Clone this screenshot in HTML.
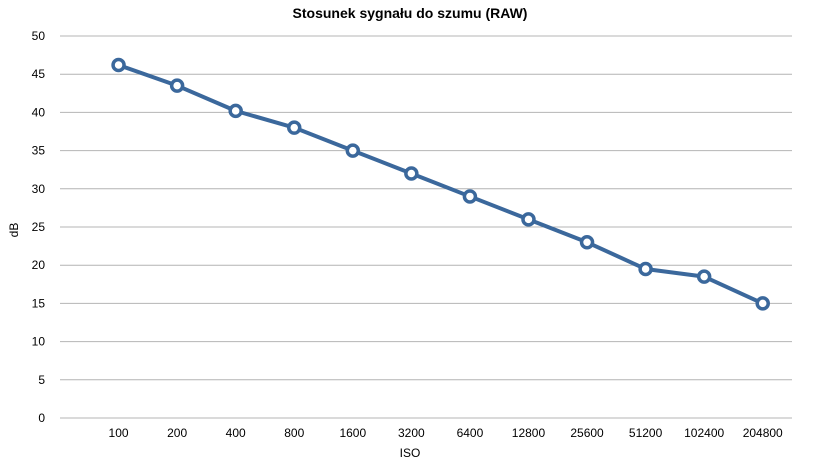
<!DOCTYPE html>
<html><head><meta charset="utf-8">
<style>
html,body{margin:0;padding:0;background:#fff;}
svg{display:block;font-family:"Liberation Sans",Arial,sans-serif;}
</style></head>
<body>
<svg id="chart" width="817" height="468" viewBox="0 0 817 468">
<text x="410" y="18" text-anchor="middle" font-size="14" font-weight="bold" fill="#000">Stosunek sygnału do szumu (RAW)</text>
<text transform="translate(18,230) rotate(-90)" text-anchor="middle" font-size="12" fill="#000">dB</text>
<text x="410" y="457" text-anchor="middle" font-size="12" fill="#000">ISO</text>
<g id="grid"></g><g id="ylabels"></g><g id="xlabels"></g><g id="series"></g>
</svg>
<script>
const categories = ["100","200","400","800","1600","3200","6400","12800","25600","51200","102400","204800"];
const snrValues = [46.2,43.5,40.2,38,35,32,29,26,23,19.5,18.5,15];
const yTicks = [0,5,10,15,20,25,30,35,40,45,50];

const NS="http://www.w3.org/2000/svg";
const x0=60,x1=792,yTop=36,yBot=418,yMax=50;
const step=(x1-x0)/(categories.length+0.5);
function xScale(i){return x0+(i+1)*step;}
function yScale(v){return yBot-(v/yMax)*(yBot-yTop);}
function mk(tag,attrs,parent){const e=document.createElementNS(NS,tag);for(const k in attrs)e.setAttribute(k,attrs[k]);parent.appendChild(e);return e;}

const grid=document.getElementById('grid'),yl=document.getElementById('ylabels'),xl=document.getElementById('xlabels'),ser=document.getElementById('series');
yTicks.forEach(t=>{
  const y=yScale(t);
  const l=mk('line',{x1:x0,x2:x1,y1:y,y2:y,stroke:'#b4b4b4','stroke-width':1},grid);
  
  
  const tx=mk('text',{x:45,y:y+4,'text-anchor':'end','font-size':12,fill:'#000'},yl);
  tx.textContent=t;
  
  
});
categories.forEach((c,i)=>{
  const tx=mk('text',{x:xScale(i),y:437,'text-anchor':'middle','font-size':12,fill:'#000'},xl);
  tx.textContent=c;
  
  
});
const pts=snrValues.map((v,i)=>xScale(i)+','+yScale(v)).join(' ');
const pl=mk('polyline',{points:pts,fill:'none',stroke:'#3b689c','stroke-width':4,'stroke-linejoin':'round'},ser);


snrValues.forEach((v,i)=>{
  const c=mk('circle',{cx:xScale(i),cy:yScale(v),r:5.5,fill:'#fff',stroke:'#3b689c','stroke-width':3.5},ser);
  
  
});
</script>
</body></html>
